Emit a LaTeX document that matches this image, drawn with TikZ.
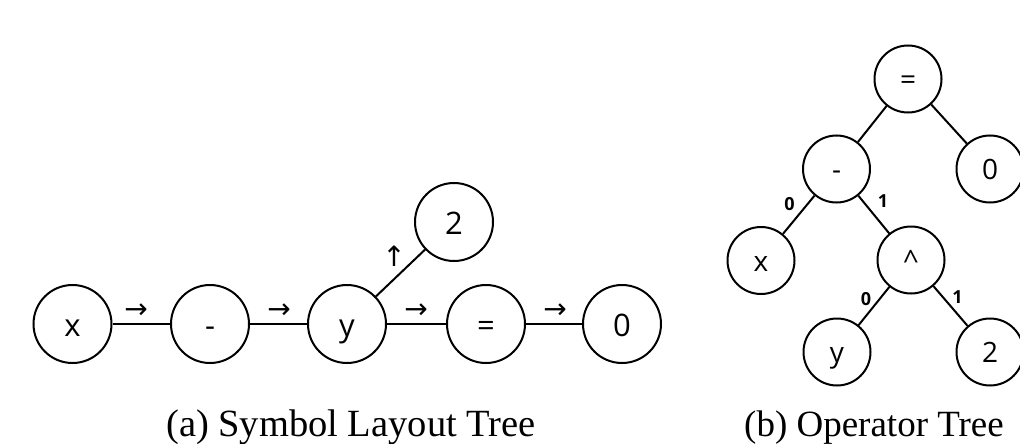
\documentclass[tikz,border=0pt]{standalone}
\usepackage{fontspec}
\setmainfont{Liberation Serif}
\newfontfamily\nodefont{Open Sans}
\newfontfamily\arrfont{DejaVu Sans}
\begin{document}
\begin{tikzpicture}[x=1pt,y=-1pt,
  bignode/.style={circle,draw,line width=2pt,minimum size=78pt,inner sep=0pt,
    text height=24pt,text depth=0pt,font=\nodefont\fontsize{31}{32}\selectfont},
  smallnode/.style={circle,draw,line width=2pt,minimum size=67pt,inner sep=0pt,
    text height=21pt,text depth=0pt,font=\nodefont\fontsize{28}{30}\selectfont},
  edgeline/.style={line width=2pt},
  arrlab/.style={inner sep=0pt,font=\arrfont\fontsize{28}{28}\selectfont},
  elab/.style={inner sep=0pt,font=\nodefont\bfseries\fontsize{18}{18}\selectfont},
  captext/.style={anchor=base,inner sep=0pt}]
\useasboundingbox (0,0) rectangle (1020,444);
% (a) Symbol layout tree
\node[bignode] (ax) at (72.5,324) {x};
\node[bignode] (am) at (210,324) {-};
\node[bignode] (ay) at (347,324) {y};
\node[bignode] (aeq) at (486,324) {=};
\node[bignode] (az) at (622,324) {0};
\node[bignode] (a2) at (454,222) {2};
\draw[edgeline] (ax) -- (am);
\draw[edgeline] (am) -- (ay);
\draw[edgeline] (ay) -- (aeq);
\draw[edgeline] (aeq) -- (az);
\draw[edgeline] (ay) -- (a2);
\node[arrlab] (r1) at (136,311) {→};
\node[arrlab] (r2) at (279,311) {→};
\node[arrlab] (r3) at (416,311) {→};
\node[arrlab] (r4) at (555,311) {→};
\node[arrlab] (u1) at (394,256) {↑};
% (b) Operator tree
\node[smallnode] (beq) at (908,79) {=};
\node[smallnode] (bm) at (836.5,169) {-};
\node[smallnode] (bz) at (990,169) {0};
\node[smallnode] (bx) at (761,260.5) {x};
\node[smallnode] (bp) at (911,260) {\^{}};
\node[smallnode] (by) at (837,352) {y};
\node[smallnode] (b2) at (990,352) {2};
\draw[edgeline] (beq) -- (bm);
\draw[edgeline] (beq) -- (bz);
\draw[edgeline] (bm) -- (bx);
\draw[edgeline] (bm) -- (bp);
\draw[edgeline] (bp) -- (by);
\draw[edgeline] (bp) -- (b2);
\node[elab] (l1) at (789.5,204.5) {0};
\node[elab] (l2) at (883,201) {1};
\node[elab] (l3) at (866,299) {0};
\node[elab] (l4) at (957.5,297) {1};
% captions
\node[captext,font=\fontsize{38.5}{40}\selectfont] (ca) at (351,436) {(a) Symbol Layout Tree};
\node[captext,font=\fontsize{37}{40}\selectfont] (cb) at (874,436) {(b) Operator Tree};
\end{tikzpicture}
\end{document}
